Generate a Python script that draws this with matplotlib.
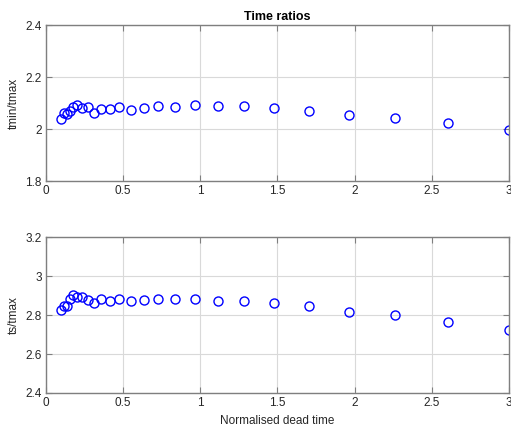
import numpy as np
import matplotlib
matplotlib.use('Agg')
import matplotlib.pyplot as plt
from matplotlib.ticker import FormatStrFormatter

plt.rcParams['font.family'] = ['Liberation Sans', 'DejaVu Sans']

# normalised dead time
dead_time = [0.100, 0.115, 0.133, 0.153, 0.176, 0.203, 0.234, 0.270, 0.311,
             0.358, 0.413, 0.476, 0.548, 0.632, 0.728, 0.839, 0.967, 1.114,
             1.284, 1.479, 1.705, 1.964, 2.263, 2.608, 3.000]

# tmin/tmax
tmin_ratio = [2.038, 2.063, 2.058, 2.070, 2.083, 2.092, 2.081, 2.086, 2.063,
              2.077, 2.077, 2.086, 2.074, 2.080, 2.088, 2.083, 2.092, 2.090,
              2.087, 2.080, 2.070, 2.054, 2.043, 2.023, 1.995]

# ts/tmax
ts_ratio = [2.826, 2.848, 2.846, 2.881, 2.901, 2.894, 2.891, 2.877, 2.860,
            2.884, 2.872, 2.884, 2.870, 2.878, 2.881, 2.881, 2.884, 2.873,
            2.873, 2.862, 2.845, 2.817, 2.800, 2.763, 2.725]

fig = plt.figure(figsize=(5.11, 4.32), dpi=100)
ax1 = fig.add_axes([0.090, 0.581, 0.906, 0.361])
ax2 = fig.add_axes([0.090, 0.0903, 0.906, 0.361])

def style(ax, ylim, yticks):
    ax.set_xlim(0, 3)
    ax.set_ylim(*ylim)
    ax.set_xticks(np.arange(0, 3.01, 0.5))
    ax.set_yticks(yticks)
    ax.xaxis.set_major_formatter(FormatStrFormatter('%g'))
    ax.yaxis.set_major_formatter(FormatStrFormatter('%g'))
    ax.grid(True, color='#d9d9d9', linewidth=0.8)
    ax.set_axisbelow(True)
    for s in ax.spines.values():
        s.set_color('#7f7f7f')
        s.set_linewidth(1.0)
    ax.tick_params(direction='in', top=True, right=True, length=4,
                   color='#7f7f7f', labelsize=8.5, labelcolor='#262626', pad=3)

ax1.plot(dead_time, tmin_ratio, 'o', mfc='none', mec='blue', ms=6.5, mew=1.0)
style(ax1, (1.8, 2.4), [1.8, 2.0, 2.2, 2.4])
ax1.set_ylabel('tmin/tmax', fontsize=8.5, color='#262626')
ax1.set_title('Time ratios', fontsize=9, fontweight='bold', pad=4)

ax2.plot(dead_time, ts_ratio, 'o', mfc='none', mec='blue', ms=6.5, mew=1.0)
style(ax2, (2.4, 3.2), [2.4, 2.6, 2.8, 3.0, 3.2])
ax2.set_ylabel('ts/tmax', fontsize=8.5, color='#262626')
ax2.set_xlabel('Normalised dead time', fontsize=8.5, color='#262626')

fig.savefig('out.png', dpi=100)
